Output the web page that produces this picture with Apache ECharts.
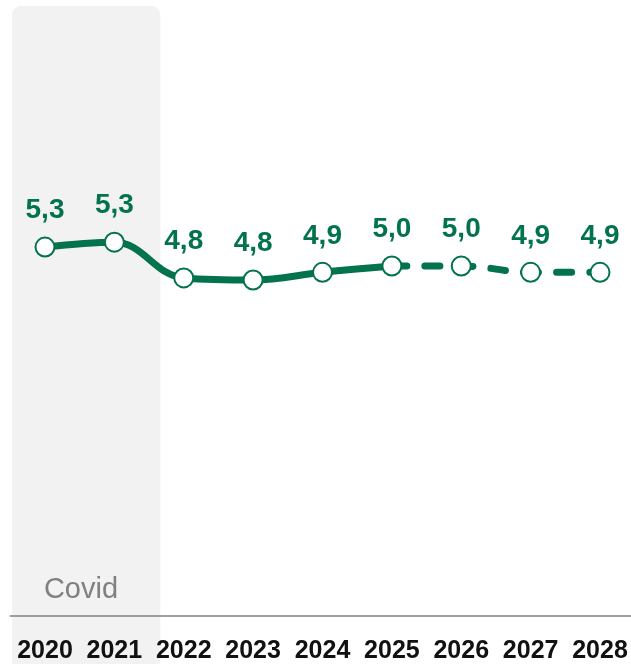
<!DOCTYPE html>
<html>
<head>
<meta charset="utf-8">
<script src="https://cdn.jsdelivr.net/npm/echarts@6/dist/echarts.min.js"></script>
<style>
  html, body { margin: 0; padding: 0; background: #fff; }
  #chart { width: 631px; height: 664px; }
</style>
</head>
<body>
<div id="chart"></div>
<script>
// data
const years = ['2020', '2021', '2022', '2023', '2024', '2025', '2026', '2027', '2028']
const values = [5.27, 5.34, 4.83, 4.8, 4.91, 5.0, 5.0, 4.91, 4.91]
const valueLabels = ['5,3', '5,3', '4,8', '4,8', '4,9', '5,0', '5,0', '4,9', '4,9']
const lastActual = 5 // index of 2025, where the forecast starts
const covidYears = ['2020', '2021']

const green = '#03734e'

const solidData = values.map((v, i) => (i <= lastActual ? v : '-'))
const dashData = values.map((v, i) => {
  if (i < lastActual) return '-'
  if (i === lastActual) return { value: v, symbol: 'none', label: { show: false } }
  return v
})

const labelStyle = {
  show: true,
  position: 'top',
  distance: 12,
  color: green,
  fontFamily: 'Liberation Sans',
  fontWeight: 'bold',
  fontSize: 28,
  formatter: p => valueLabels[p.dataIndex]
}

const myChart = echarts.init(document.getElementById('chart'))

const option = {
  animation: false,
  grid: {
    left: 10.3,
    right: -3.7,
    top: 56,
    bottom: 48,
    outerBoundsMode: 'none'
  },
  xAxis: {
    type: 'category',
    data: years,
    boundaryGap: true,
    axisLine: { lineStyle: { color: '#808080', width: 1.5 } },
    axisTick: { show: false },
    axisLabel: {
      interval: 0,
      hideOverlap: false,
      color: '#111',
      fontFamily: 'Liberation Sans',
      fontWeight: 'bold',
      fontSize: 25,
      margin: 23
    },
    z: 5
  },
  yAxis: {
    type: 'value',
    min: 0,
    max: 8,
    show: false,
    splitLine: { show: false }
  },
  series: [
    {
      name: 'actual',
      type: 'line',
      data: solidData,
      smooth: 0.4,
      symbol: 'circle',
      symbolSize: 19,
      showAllSymbol: true,
      lineStyle: { color: green, width: 7, cap: 'round' },
      itemStyle: { color: '#fff', borderColor: green, borderWidth: 2 },
      label: labelStyle,
      z: 3
    },
    {
      name: 'forecast',
      type: 'line',
      data: dashData,
      smooth: 0.4,
      symbol: 'circle',
      symbolSize: 19,
      showAllSymbol: true,
      lineStyle: { color: green, width: 7, type: [15, 18], cap: 'round' },
      itemStyle: { color: '#fff', borderColor: green, borderWidth: 2 },
      label: labelStyle,
      z: 2
    }
  ]
}

myChart.setOption(option)

// covid shading behind the first two years, placed from the axis positions
const xStart = myChart.convertToPixel({ xAxisIndex: 0 }, covidYears[0])
const xEnd = myChart.convertToPixel({ xAxisIndex: 0 }, covidYears[1])
const rectLeft = xStart - 33
const rectRight = xEnd + 46

myChart.setOption({
  graphic: [
    {
      type: 'rect',
      z: -10,
      silent: true,
      shape: { x: rectLeft, y: 6, width: rectRight - rectLeft, height: 700, r: [9, 9, 0, 0] },
      style: { fill: '#f2f2f2' }
    },
    {
      type: 'text',
      z: 10,
      silent: true,
      x: 81,
      y: 590,
      style: {
        text: 'Covid',
        fill: '#808080',
        font: '500 29px "Liberation Sans"',
        align: 'center',
        verticalAlign: 'middle'
      }
    }
  ]
})
</script>
</body>
</html>
